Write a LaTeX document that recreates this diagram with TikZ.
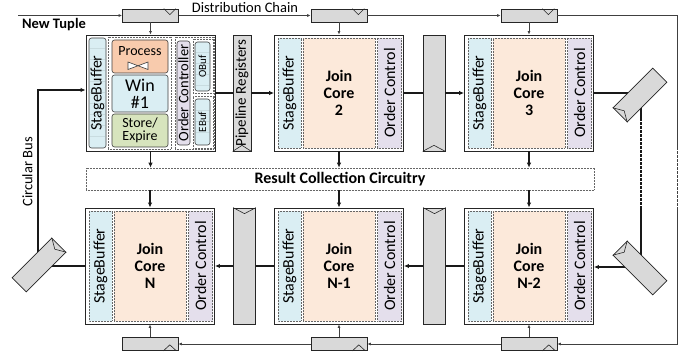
\documentclass[tikz,border=0pt]{standalone}
\usepackage{fontspec}
\setmainfont{Carlito}
\usetikzlibrary{arrows.meta,calc}
\definecolor{sbblue}{HTML}{DAEEF3}
\definecolor{jcpeach}{HTML}{FCE9DA}
\definecolor{oclav}{HTML}{E4DFEC}
\definecolor{procor}{HTML}{F8CBAD}
\definecolor{stgreen}{HTML}{D7E4BD}
\definecolor{reggray}{HTML}{D9D9D9}
\definecolor{edge}{HTML}{404040}
\newcommand\FS[2]{\fontsize{#1}{#2}\selectfont}
\newcommand\JCore[4]{%
  \node[core] (#1) at (#2,#3) {};
  \node[sbstrip,rotate=90] (#1sb) at ($(#1.west)+(15.5,0)$) {StageBuffer};
  \node[jcarea] (#1jc) at ($(#1.west)+(65,0)$) {Join\\Core\\#4};
  \node[ocstrip,rotate=90] (#1oc) at ($(#1.west)+(115.5,0)$) {Order Control};
}
\begin{document}
\begin{tikzpicture}[x=1pt,y=-1pt,
  core/.style={draw=black!85,line width=0.9pt,fill=white,inner sep=0pt,minimum width=129pt,minimum height=116pt},
  dotbox/.style={draw=gray!80!black,densely dotted,line width=0.5pt,inner sep=0pt},
  sbstrip/.style={dotbox,fill=sbblue,minimum width=110pt,minimum height=23pt,font=\FS{16}{16}},
  jcarea/.style={dotbox,fill=jcpeach,minimum width=72pt,minimum height=110pt,align=center,font=\bfseries\FS{16}{16.7}},
  ocstrip/.style={dotbox,fill=oclav,minimum width=110pt,minimum height=24pt,font=\FS{16}{16}},
  rbox/.style={draw=edge,line width=0.6pt,rounded corners=2.5pt,inner sep=0pt},
  treg/.style={draw=black!85,fill=reggray,line width=0.7pt,minimum width=56pt,minimum height=13pt,inner sep=0pt},
  vreg/.style={draw=black!85,fill=reggray,line width=0.7pt,minimum width=22pt,minimum height=116pt,inner sep=0pt},
  dreg/.style={draw=black!85,fill=reggray,line width=0.7pt,minimum width=56pt,minimum height=20pt,inner sep=0pt},
  notch/.style={draw=black!85,line width=0.6pt},
  stripe/.style={draw=sbblue!70!black,opacity=0.25,line width=0.4pt},
  data/.style={line width=1.5pt,draw=black!90},
  dist/.style={line width=0.8pt,draw=edge},
  tipbig/.style={-{Latex[length=5pt,width=4.5pt]}},
  tipsmall/.style={-{Latex[length=3.5pt,width=3pt]}}]
\useasboundingbox (0,0) rectangle (691,358);

% ---------- core 1 (detailed) ----------
\node[core] (C1) at (150.5,93) {};
\node[rbox,fill=sbblue,rotate=90,minimum width=110pt,minimum height=17pt,font=\FS{16}{16}] (C1sb) at (97.5,93) {StageBuffer};
\node[dotbox,minimum width=63pt,minimum height=112pt] (C1g1) at (139.5,93) {};
\node[rbox,fill=procor,minimum width=56pt,minimum height=33pt] (C1p) at (140,56.5) {};
\node[font=\FS{14}{14}] (C1pt) at (140,51) {Process};
\draw[edge,fill=white,line width=0.6pt] (128,62) -- (148,69.5) -- (148,62) -- (128,69.5) -- cycle;
\node[rbox,fill=sbblue,minimum width=56pt,minimum height=37pt,align=center,font=\FS{18}{17}] (C1w) at (140,93.5) {Win\\\#1};
\node[rbox,fill=stgreen,minimum width=56pt,minimum height=33pt,align=center,font=\FS{14}{13}] (C1s) at (140,130.5) {Store/\\Expire};
\node[dotbox,minimum width=39pt,minimum height=112pt] (C1g2) at (194.5,93) {};
\node[rbox,fill=oclav,rotate=90,minimum width=104pt,minimum height=13pt,font=\FS{14.5}{14.5}] (C1oc) at (183.5,93) {Order Controller};
\node[dotbox,minimum width=20pt,minimum height=54pt] (C1og) at (203,66) {};
\node[rbox,fill=sbblue,rotate=90,minimum width=49pt,minimum height=15pt,font=\FS{11}{11}] (C1ob) at (202.5,66.5) {OBuf};
\node[dotbox,minimum width=20pt,minimum height=52pt] (C1eg) at (203,122) {};
\node[rbox,fill=sbblue,rotate=90,minimum width=46pt,minimum height=15pt,font=\FS{11}{11}] (C1eb) at (202.5,122) {EBuf};
\foreach \yy in {48,59,70,81,92,103,114,125,136} \draw[stripe] (89.6,\yy) -- (105.4,\yy);
\foreach \yy in {52,63,74,85} \draw[stripe] (195.5,\yy) -- (209.5,\yy);
\foreach \yy in {110,121,132} \draw[stripe] (195.5,\yy) -- (209.5,\yy);

% ---------- other cores ----------
\JCore{C2}{339}{93}{2}
\JCore{C3}{529}{93}{3}
\JCore{CN}{150}{266}{N}
\JCore{CNa}{339}{266}{N-1}
\JCore{CNb}{529}{266}{N-2}

% ---------- result collection ----------
\node[dotbox,minimum width=508pt,minimum height=22pt,font=\bfseries\FS{16}{16}] (RC) at (340,179) {Result Collection Circuitry};

% ---------- registers ----------
\node[treg] (T1) at (150.5,15.5) {};
\node[treg] (T2) at (339,15.5) {};
\node[treg] (T3) at (529,15.5) {};
\node[treg] (B1) at (150,344) {};
\node[treg] (B2) at (339,344) {};
\node[treg] (B3) at (529,344) {};
\foreach \r in {T1,T2,T3}
  \draw[notch] ($(\r.north east)+(-15,0)$) -- ($(\r.north east)+(-9,6)$) -- ($(\r.north east)+(-3,0)$);
\foreach \r in {B1,B2,B3}
  \draw[notch] ($(\r.south east)+(-15,0)$) -- ($(\r.south east)+(-8.5,-6)$) -- ($(\r.south east)+(-2,0)$);

\node[vreg,minimum width=18pt] (P1) at (242,93) {};
\node[vreg] (P2) at (434,93) {};
\node[vreg] (P3) at (244.5,266) {};
\node[vreg] (P4) at (434.5,266) {};
\foreach \r in {P1,P2}
  \draw[notch] (\r.south west) -- ($(\r.south)+(0,-6)$) -- (\r.south east);
\foreach \r in {P3,P4}
  \draw[notch] (\r.north west) -- ($(\r.north)+(0,6)$) -- (\r.north east);
\node[rotate=90,font=\FS{15}{15}] (P1t) at (242,93) {Pipeline Registers};

% ---------- distribution chain ----------
\coordinate (ntin) at (18,15.5);
\coordinate (cTR) at (677,15.5);
\coordinate (cBR) at (677,344);
\draw[dist,tipsmall] (ntin) -- (T1.west);
\draw[dist,tipsmall] (T1.east) -- (T2.west);
\draw[dist,tipsmall] (T2.east) -- (T3.west);
\draw[dist,tipsmall] (T3.east) -- (cTR) -- (cBR) -- (B3.east);
\draw[dist,tipsmall] (B3.west) -- (B2.east);
\draw[dist,tipsmall] (B2.west) -- (B1.east);
\coordinate (d3) at (677,150);
\coordinate (d4) at (677,207);
\draw[white,line width=1pt,dash pattern=on 1.5pt off 2.5pt] (d3) -- (d4);
\foreach \t/\c in {T1/C1,T2/C2,T3/C3}
  \draw[dist,tipsmall] (\t.south) -- (\t.south |- \c.north);
\foreach \b/\c in {B1/CN,B2/CNa,B3/CNb}
  \draw[dist,tipsmall] (\b.north) -- (\b.north |- \c.south);

% ---------- pipeline data path ----------
\draw[data] (C1.east) -- (P1.west);
\draw[data,tipbig] (P1.east) -- (C2.west);
\draw[data] (C2.east) -- (P2.west);
\draw[data,tipbig] (P2.east) -- (C3.west);
\coordinate (rc1) at (641,93);
\coordinate (rc2) at (641,267);
\draw[data,tipbig] (C3.east) -- (rc1) -- (rc2) -- (rc2 -| CNb.east);
\coordinate (d1) at (641,121);
\coordinate (d2) at (641,207);
\draw[white,line width=1.7pt,dash pattern=on 1.5pt off 2.5pt] (d1) -- (d2);
\draw[data] (CNb.west) -- (P4.east);
\draw[data,tipbig] (P4.west) -- (CNa.east);
\draw[data] (CNa.west) -- (P3.east);
\draw[data,tipbig] (P3.west) -- (CN.east);
\coordinate (cb1) at (38,266);
\coordinate (cb2) at (38,90);
\draw[data,tipbig] (CN.west) -- (cb1) -- (cb2) -- (cb2 -| C1.west);

% ---------- result arrows ----------
\foreach \c in {C1,C2,C3}
  \draw[data,tipbig] (\c.south) -- (\c.south |- RC.north);
\foreach \c in {CN,CNa,CNb}
  \draw[data,tipbig] (RC.south -| \c.north) -- (\c.north);

% ---------- diagonal registers ----------
\node[dreg,rotate=45] (R1) at (640,95) {};
\draw[notch] (R1.north west) -- ($(R1.west)!6pt!(R1.east)$) -- (R1.south west);
\node[dreg,rotate=-45] (R2) at (640,268) {};
\draw[notch] (R2.north west) -- ($(R2.west)!6pt!(R2.east)$) -- (R2.south west);
\node[dreg,rotate=45] (LR) at (39,265) {};
\draw[notch] (LR.north east) -- ($(LR.east)!6pt!(LR.west)$) -- (LR.south east);

% ---------- labels ----------
\node[font=\FS{14.5}{14.5}] (dct) at (245,7.5) {Distribution Chain};
\node[font=\bfseries\FS{14.5}{14.5}] (ntt) at (54,25) {New Tuple};
\node[rotate=90,font=\FS{14.5}{14.5}] (cbt) at (27.5,172) {Circular Bus};
\end{tikzpicture}
\end{document}
